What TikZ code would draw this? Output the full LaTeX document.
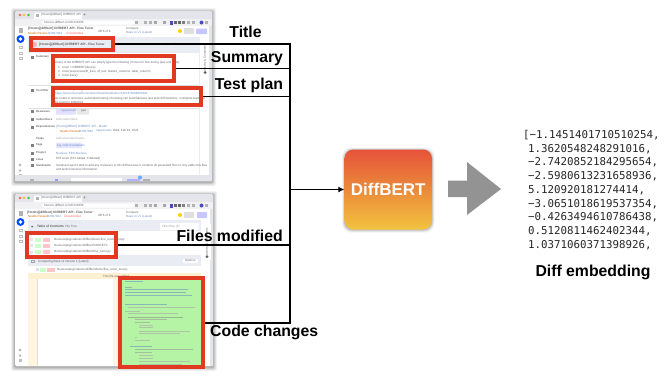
\documentclass[tikz,border=0pt]{standalone}
\usepackage{fontspec}
\setmainfont{Liberation Sans}
\newfontfamily\codefont{DejaVu Sans Mono}
\usetikzlibrary{arrows.meta}
\definecolor{redbox}{HTML}{E23A22}
\definecolor{chromegray}{HTML}{E4E5EA}
\definecolor{urlgray}{HTML}{F1F1F3}
\definecolor{pagegray}{HTML}{E9ECF2}
\definecolor{codegreen}{HTML}{B4F4A4}
\definecolor{uilink}{HTML}{6F8FC8}
\definecolor{uitext}{HTML}{66686D}
\definecolor{lightred}{HTML}{FF5F57}
\definecolor{lightyellow}{HTML}{FDBC2E}
\definecolor{lightgreen}{HTML}{3CC14A}
\definecolor{gradtop}{HTML}{E6533A}
\definecolor{gradmid}{HTML}{EB8A3A}
\definecolor{gradbot}{HTML}{F2C33F}
\tikzset{
  highlight/.style={draw=redbox,line width=4pt,inner sep=0pt,anchor=north west},
  bigname/.style={font=\bfseries\fontsize{15.8}{18}\selectfont,inner sep=0pt,text=black},
  connector/.style={draw=black,line width=1.1pt},
  uitxt/.style={font=\fontsize{3}{3.6}\selectfont,text=uitext,inner sep=0pt,anchor=west},
  uibold/.style={uitxt,font=\bfseries\fontsize{3.2}{3.6}\selectfont,text=black!65},
  uilinktxt/.style={uitxt,text=uilink},
}
\newcommand{\winframe}[2]{% #1 right edge, #2 bottom edge
  \foreach \s/\o in {4/.05,3/.07,2/.09,1/.12}
    \fill[black,opacity=\o,rounded corners=2pt] (15-\s,11-\s+1) rectangle (#1+\s,#2+\s+1);
  \fill[white,rounded corners=1.5pt] (15,11) rectangle (#1,#2);
  \fill[chromegray,rounded corners=1.5pt] (15,11) rectangle (#1,20);
  \fill[white,rounded corners=1pt] (34,12.5) rectangle (82,19);
  \fill[urlgray] (15,19) rectangle (#1,26);
  \fill[white,rounded corners=2pt] (42,20.5) rectangle (135,24.5);
  \fill[lightred] (20,15) circle (1.3);
  \fill[lightyellow] (24,15) circle (1.3);
  \fill[lightgreen] (28.5,15) circle (1.3);
  \fill[gray!60] (36,13.5) rectangle (39,17);
  \node[uitxt] at (41,15.2) {[Hoons][diffbert] DiffBERT API};
  \node[uitxt,text=black!60,font=\fontsize{5}{5}\selectfont] at (83,15.2) {+};
  \node[uitxt] at (44,22.5) {htxxxxx.diffbert.com/D123456};
  \foreach \x/\c in {136/gray!60,145/gray!60,150/gray!60,155/gray!70,164/gray!70,175/black!60,179/black!60,183/black!50,188/gray!60,193/gray!60,206/gray!60}
    \fill[\c] (\x-1.5,21) rectangle (\x+1.5,24);
  \fill[blue!55!black!70] (169.5,21) rectangle (173,24.5);
  \fill[blue!60!black!70] (201.5,22.5) circle (2);
  \fill[white] (15,26) rectangle (#1,37);
  \fill[chromegray] (#1-3,26) rectangle (#1,#2);
  % sidebar
  \fill[blue!70!cyan] (20.5,39) circle (4);
  \fill[white] (20.5,39) circle (1.8);
  \foreach \y in {46,52,57} \draw[gray!50,line width=.5pt] (19,\y) rectangle (22,\y+2.5);
  \fill[gray!60] (19,28) rectangle (23,33);
  \fill[gray!50] (20,#2-16) circle (1.7);
  \fill[gray!50] (20,#2-10.5) circle (1.5);
  \fill[gray!50] (18.5,#2-7.5) rectangle (21.5,#2-4);
}
\begin{document}
\begin{tikzpicture}[x=1pt,y=-1pt]
\useasboundingbox (0,0) rectangle (672,375);
\fill[white] (0,0) rectangle (672,375);

% ---------- upper window ----------
\winframe{212}{181}
\fill[pagegray] (28,37) rectangle (200,175);
\fill[white] (28,53) rectangle (199,175);
\fill[chromegray] (15,175) rectangle (209,181);
\fill[white] (200,40) rectangle (209,76);
\node[uibold] at (28,29) {[Hoons][diffbert] DiffBERT API - Fine Tuner};
\node[uitxt,text=orange!80!black] at (28,33) {Needs Review};
\node[uilinktxt] at (48,33) {D2697924};
\node[uitxt,text=red!60] at (66,33) {Unsubmitted};
\node[uitxt] at (98,31) {diff 6 of 6};
\node[uitxt] at (126,29) {Compare};
\node[uilinktxt] at (126,33) {Base vs V1 (Latest)};
\fill[yellow!70!orange] (180,31) circle (2);
\fill[gray!25,rounded corners=.7pt] (184,28) rectangle (194,34);
\fill[blue!22,rounded corners=.7pt] (196,28.5) rectangle (207,34);
\fill[red!30] (34,44.5) circle (3);
\node[uitxt,text=black!55] at (166,44) {Edit diff};
\node[uitxt,rotate=90,text=black!60,anchor=center] at (205,58) {Activity \& Comments};
\fill[black!65] (205,72.5) circle (1.5);
\foreach \y/\t in {57/Summary,90/Test Plan,111/Reviewers,119/Subscribers,127/Dependencies,138/Tasks,145/Tags,153/Project,159/Lines,165/Sandcastle}
  \node[uitxt,font=\bfseries\fontsize{2.8}{3}\selectfont,text=black!60] at (36,\y) {\t};
\foreach \y in {57,90,111,119,127,145,153,159,165}
  \fill[black!50] (31,\y-1.5) rectangle (34,\y+1.5);
\node[uitxt] at (55,62.5) {Users of the DiffBERT API can simply type the following (3 lines for fine-tuning (see unit tests):};
\node[uitxt] at (58,68) {1.\ \ tuner = DiffBERT(device)};
\node[uitxt] at (58,71.5) {2.\ \ tuner.preprocess(df\_train, df\_test, feature\_columns, label\_column)};
\node[uitxt] at (58,75.5) {3.\ \ tuner.train()};
\node[uitxt] at (55,90) {buck test //ml\_tuner\_test};
\node[uilinktxt] at (55,93.5) {https://www.internalfb.com/intern/testinfra/testrun/1407375098060394};
\node[uitxt] at (55,99) {As noted in unit tests, automated testing of training can load flakiness and slow diff iterations. Complete tests can};
\node[uitxt] at (55,102.5) {be found in D456153};
\draw[gray!25,line width=.4pt] (29,85) -- (199,85);
\draw[gray!25,line width=.4pt] (29,108) -- (199,108);
\fill[blue!12,rounded corners=.7pt] (56,108.5) rectangle (76,114.5);
\node[uilinktxt] at (61,111.5) {nguyensam};
\fill[gray!18,rounded corners=.7pt] (77,108.5) rectangle (89,114.5);
\node[uitxt] at (81,111.5) {gao};
\node[uitxt,text=gray!70] at (56,119.5) {Add subscribers};
\node[uilinktxt] at (56,127) {[Hoons][diffbert] DiffBERT API - Model};
\node[uitxt,text=orange!80!black] at (60,131) {Needs Review};
\node[uilinktxt] at (79,131) {D2697838};
\node[uilinktxt] at (96,131) {nguyensam};
\node[uitxt] at (113,131) {Wed, Feb 24, 2021};
\node[uitxt,text=gray!70] at (56,138) {Add associated tasks};
\fill[blue!10,rounded corners=.7pt] (56,142.5) rectangle (82,148);
\node[uilinktxt] at (57,145.5) {big code foundations};
\node[uilinktxt] at (56,153) {Nucleus: FBS-Nucleus};
\node[uitxt,text=black!60] at (56,159) {870 Lines (672 added, 0 deleted)};
\node[uitxt] at (56,165.5) {Sandcast wasn't able to add any reviewers to this diff because it contains all generated files or only adds new files};
\node[uitxt] at (56,169.5) {and lacks historical information.};
\fill[blue!55!cyan!60] (140,177.5) circle (2);
\fill[white,rounded corners=.5pt] (71,178) rectangle (122,181);
\fill[gray!60] (30,178.5) rectangle (34,180.5);
\fill[blue!40] (55,178.5) rectangle (58,180.5);
\fill[blue!30] (127,178.5) rectangle (140,180.5);
\fill[gray!60] (143,178.5) rectangle (150,180.5);

% ---------- lower window ----------
\begin{scope}[shift={(0,183)}]
\winframe{213}{183}
\end{scope}
\fill[pagegray] (28,220) rectangle (201,366);
\fill[white] (28,231) rectangle (201,255);
\fill[white] (28,266) rectangle (201,366);
\fill[white] (203,224) rectangle (211,260);
\node[uibold] at (27,213) {[Hoons][diffbert] DiffBERT API - Fine Tuner};
\node[uitxt,text=orange!80!black] at (28,216.5) {Needs Review};
\node[uilinktxt] at (47,216.5) {D2697924};
\node[uitxt,text=red!60] at (64,216.5) {Unsubmitted};
\node[uitxt] at (98,215) {diff 6 of 6};
\node[uitxt] at (126,213) {Compare};
\node[uilinktxt] at (126,217) {Base vs V1 (Latest)};
\fill[yellow!70!orange] (180,215) circle (2);
\fill[gray!25,rounded corners=.7pt] (184,212) rectangle (194,218);
\fill[blue!22,rounded corners=.7pt] (197,212) rectangle (207,218);
\fill[black!60] (31,226) -- (33.5,226) -- (32.2,227.5) -- cycle;
\node[uibold] at (37,226.5) {Table of Contents};
\node[uitxt] at (65,226.5) {File Tree};
\fill[white,rounded corners=.7pt] (160,223) rectangle (199,230);
\node[uitxt,text=gray!80] at (162,226.5) {Filter files (F)};
\node[uitxt,rotate=90,text=black!60,anchor=center] at (207,242) {Activity \& Comments};
\fill[black!65] (207,256.5) circle (1.5);
\node[uitxt] at (30,234.5) {BRANCH(ES) diffbert 3 modified, 3 added, 0 deleted};
\foreach \y/\t in {239.5/{Nucleus/pkg/code/src/diffbert/tests/fine\_tuner\_test.py},245.5/{Nucleus/pkg/code/src/diffbert/TARGETS},252/{Nucleus/pkg/code/src/diffbert/fine\_tuner.py}}{
  \fill[gray!20] (30,\y-1.5) rectangle (33,\y+1.5);
  \fill[green!20] (35,\y-2) rectangle (41,\y+2);
  \fill[red!22] (43,\y-2) rectangle (50,\y+2);
  \node[uitxt] at (54,\y) {\t};
}
\node[uibold,font=\fontsize{3}{3.6}\selectfont] at (38,261.5) {Comparing Base vs Version 1 (Latest)};
\draw[gray!70,line width=.5pt] (31,260.5) rectangle (34,262.5);
\fill[white,rounded corners=.7pt] (183,259) rectangle (198,263);
\node[uitxt] at (185,261) {Options};
\fill[gray!25] (36,268) rectangle (39,271);
\fill[green!20] (40,267.5) rectangle (46,271.5);
\fill[red!22] (47,267.5) rectangle (55,271.5);
\node[uitxt] at (57,269.5) {Nucleus/pkg/code/src/diffbert/tests/fine\_tuner\_test.py};
\fill[lightyellow!22] (28,273) rectangle (201,279);
\node[uitxt,text=black!60] at (103,276) {This file was added.};
\fill[lightyellow!15] (28,279) rectangle (37,366);
\fill[lightyellow!15] (113,279) rectangle (118,366);
\draw[gray!25,line width=.4pt] (37,279) -- (37,366);
\fill[codegreen] (118,276) rectangle (205,369);

% code in the green panel
\foreach \y/\a/\b/\c in {281/125/143/uilink,287/125/132/black!45,289/125/188/uilink,292/125/186/uilink,295/125/192/uilink,304/125/167/uilink,307.5/128/195/black!35,311/125/140/black!35,313/128/178/black!35,317/128/183/black!45,319/135/167/black!40,322/135/150/black!40,325/139/153/black!35,327.5/139/153/black!35,331/139/190/black!35,333/139/180/black!35,337/135/137/black!35,340/135/150/black!35,346/130/152/uilink,349/135/193/black!40,352/135/152/black!40,355/139/153/black!35,358/139/153/black!35,361/139/190/black!35,364/139/182/black!35}
  \draw[\c,line width=.9pt,opacity=.6] (\a,\y) -- (\b,\y);

% ---------- highlight boxes ----------
\node[highlight,minimum width=82pt,minimum height=12pt] (titlebox) at (29,36) {};
\node[highlight,minimum width=121pt,minimum height=25pt] (summarybox) at (51,54) {};
\node[highlight,minimum width=148pt,minimum height=17pt] (testbox) at (51,86) {};
\node[highlight,minimum width=89pt,minimum height=24pt] (filesbox) at (25,231) {};
\node[highlight,minimum width=83pt,minimum height=89pt] (codebox) at (118,276) {};
\node[uibold] at (39,44.2) {[Hoons][diffbert] DiffBERT API - Fine Tuner};

% ---------- connectors ----------
\coordinate (busx) at (290,0);
\coordinate (busbottom) at (290,323);
\draw[connector] (titlebox.east) -- (titlebox.east -| busx) -- (busbottom) -- (codebox.east |- busbottom);
\draw[connector] (summarybox.east) -- (summarybox.east -| busx);
\draw[connector] (testbox.east) -- (testbox.east -| busx);
\draw[connector] (filesbox.east) -- (filesbox.east -| busx);

% ---------- DiffBERT ----------
\foreach \s/\o in {2.5/.05,1.5/.08,.7/.12}
  \fill[black,opacity=\o,rounded corners=9pt] (344.5-\s,149-\s+1) rectangle (432+\s,229+\s+1);
\node[rounded corners=9pt,minimum width=87.5pt,minimum height=80pt,inner sep=0pt,
  top color=gradtop,bottom color=gradbot,middle color=gradmid,text=white,
  font=\bfseries\fontsize{17}{20}\selectfont] (diffbert) at (388.25,189.5) {DiffBERT};
\draw[connector,-{Latex[length=6pt,width=6pt]}] (diffbert.west -| busx) -- (diffbert.west);

% ---------- labels ----------
\node[bigname] (titlelabel) at (245.5,32) {Title};
\node[bigname] (summarylabel) at (247,59) {Summary};
\node[bigname] (testlabel) at (249,85.5) {Test plan};
\node[bigname,anchor=east] (fileslabel) at (283,236) {Files modified};
\node[bigname,anchor=west] (codelabel) at (210,332) {Code changes};

% ---------- grey arrow ----------
\fill[gray!85] (448,180.5) -- (467,180.5) -- (467,162) -- (501,189) -- (467,215) -- (467,197) -- (448,197) -- cycle;

% ---------- embedding ----------
\foreach \i/\t/\x in {0/{[−1.1451401710510254,}/523,1/{1.3620548248291016,}/528,2/{−2.7420852184295654,}/528,3/{−2.5980613231658936,}/528,4/{5.120920181274414,}/528,5/{−3.0651018619537354,}/528,6/{−0.4263494610786438,}/528,7/{0.5120811462402344,}/528,8/{1.0371060371398926,}/528}
  \node[font=\codefont\fontsize{10.8}{13}\selectfont,text=black!85,inner sep=0pt,anchor=west] at (\x,135+13.75*\i) {\t};
\node[bigname] (embedlabel) at (593,272) {Diff embedding};
\end{tikzpicture}
\end{document}
